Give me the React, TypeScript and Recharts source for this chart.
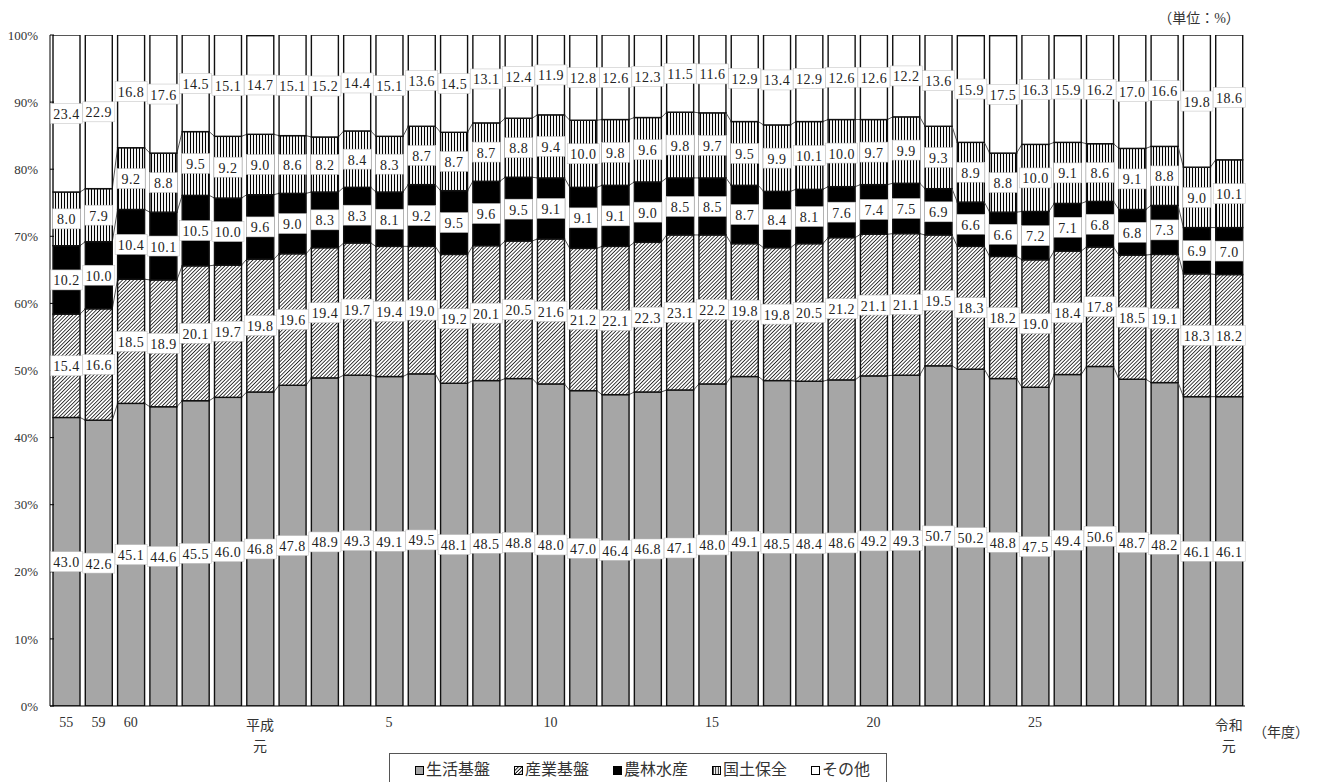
import React from "react";
import { BarChart, Bar, XAxis, YAxis, LabelList } from "recharts";

// fiscal years (昭和55 … 令和元)
const years = [
  "55", "59", "60", "61", "62", "63", "平成元", "2", "3", "4", "5", "6", "7", "8", "9", "10",
  "11", "12", "13", "14", "15", "16", "17", "18", "19", "20", "21", "22", "23", "24", "25",
  "26", "27", "28", "29", "30", "令和元",
];
const shownYears = ["55", "59", "60", "平成元", "5", "10", "15", "20", "25", "令和元"];

const seikatsu = [
  43.0, 42.6, 45.1, 44.6, 45.5, 46.0, 46.8, 47.8, 48.9, 49.3, 49.1, 49.5, 48.1, 48.5, 48.8, 48.0,
  47.0, 46.4, 46.8, 47.1, 48.0, 49.1, 48.5, 48.4, 48.6, 49.2, 49.3, 50.7, 50.2, 48.8, 47.5, 49.4,
  50.6, 48.7, 48.2, 46.1, 46.1,
];
const sangyo = [
  15.4, 16.6, 18.5, 18.9, 20.1, 19.7, 19.8, 19.6, 19.4, 19.7, 19.4, 19.0, 19.2, 20.1, 20.5, 21.6,
  21.2, 22.1, 22.3, 23.1, 22.2, 19.8, 19.8, 20.5, 21.2, 21.1, 21.1, 19.5, 18.3, 18.2, 19.0, 18.4,
  17.8, 18.5, 19.1, 18.3, 18.2,
];
const norin = [
  10.2, 10.0, 10.4, 10.1, 10.5, 10.0, 9.6, 9.0, 8.3, 8.3, 8.1, 9.2, 9.5, 9.6, 9.5, 9.1, 9.1, 9.1,
  9.0, 8.5, 8.5, 8.7, 8.4, 8.1, 7.6, 7.4, 7.5, 6.9, 6.6, 6.6, 7.2, 7.1, 6.8, 6.8, 7.3, 6.9, 7.0,
];
const kokudo = [
  8.0, 7.9, 9.2, 8.8, 9.5, 9.2, 9.0, 8.6, 8.2, 8.4, 8.3, 8.7, 8.7, 8.7, 8.8, 9.4, 10.0, 9.8, 9.6,
  9.8, 9.7, 9.5, 9.9, 10.1, 10.0, 9.7, 9.9, 9.3, 8.9, 8.8, 10.0, 9.1, 8.6, 9.1, 8.8, 9.0, 10.1,
];
const sonota = [
  23.4, 22.9, 16.8, 17.6, 14.5, 15.1, 14.7, 15.1, 15.2, 14.4, 15.1, 13.6, 14.5, 13.1, 12.4, 11.9,
  12.8, 12.6, 12.3, 11.5, 11.6, 12.9, 13.4, 12.9, 12.6, 12.6, 12.2, 13.6, 15.9, 17.5, 16.3, 15.9,
  16.2, 17.0, 16.6, 19.8, 18.6,
];
const yTicks = [0, 10, 20, 30, 40, 50, 60, 70, 80, 90, 100];

const SERIES = [
  { key: "seikatsu", name: "生活基盤", values: seikatsu, fill: "#a6a6a6" },
  { key: "sangyo", name: "産業基盤", values: sangyo, fill: "url(#hatchDiag)" },
  { key: "norin", name: "農林水産", values: norin, fill: "#000" },
  { key: "kokudo", name: "国土保全", values: kokudo, fill: "url(#hatchVert)" },
  { key: "sonota", name: "その他", values: sonota, fill: "#fff" },
];

const rows = years.map((year, i) => {
  const row: Record<string, any> = { year };
  SERIES.forEach((s) => (row[s.key] = s.values[i]));
  return row;
});

const W = 1317;
const H = 782;
const MARGIN = { top: 35, right: 72, bottom: 0, left: 0 };
const Y_AXIS_W = 50;
const BAND = (W - MARGIN.left - MARGIN.right - Y_AXIS_W) / years.length;
const FONT = '"Liberation Serif", "Noto Sans CJK JP", serif';
const TEXT = "#333";

const cumulative = (idx: number, upTo: number) =>
  SERIES.slice(0, upTo + 1).reduce((acc, s) => acc + s.values[idx], 0);

// segment rect plus the series line joining it to the same segment of the next bar
const makeShape = (k: number) => (props: any) => {
  const { x, y, width, height, index, fill } = props;
  if (!(height > 0)) return <g />;
  const val = SERIES[k].values[index];
  let link = null;
  if (k < SERIES.length - 1 && index < years.length - 1) {
    const pu = height / val;
    const zero = y + height + (cumulative(index, k) - val) * pu;
    const ny = zero - cumulative(index + 1, k) * pu;
    link = (
      <line x1={x + width} y1={y} x2={x + BAND} y2={ny} stroke="#555" strokeWidth={1} />
    );
  }
  return (
    <g>
      <rect x={x} y={y} width={width} height={height} fill={fill} stroke="#111" strokeWidth={1.4} />
      {link}
    </g>
  );
};

function SegmentLabel(props: any) {
  const vb = props.viewBox || props;
  const { x, y, width, height } = vb;
  if (props.value == null || !(height > 0)) return null;
  const text = Number(props.value).toFixed(1);
  const textW = text.length === 4 ? 27 : 20;
  const w = Math.max(28, textW + 5);
  const cx = x + width / 2;
  const cy = y + height / 2;
  return (
    <g>
      <rect x={cx - w / 2} y={cy - 10} width={w} height={20} fill="#fff" stroke="#bbb" strokeWidth={0.5} />
      <text
        x={cx}
        y={cy + 1}
        textAnchor="middle"
        dominantBaseline="central"
        fontFamily={FONT}
        fontSize={14}
        letterSpacing={0.5}
        fill="#222"
      >
        {text}
      </text>
    </g>
  );
}

function YearTick({ x, y, payload }: any) {
  const v: string = payload.value;
  if (!shownYears.includes(v)) return null;
  if (v.endsWith("元")) {
    return (
      <g fontFamily={FONT} fontSize={14} fill={TEXT} textAnchor="middle">
        <text x={x} y={y + 24}>{v.slice(0, -1)}</text>
        <text x={x} y={y + 45}>元</text>
      </g>
    );
  }
  return (
    <text x={x} y={y + 21} textAnchor="middle" fontFamily={FONT} fontSize={14} fill={TEXT}>
      {v}
    </text>
  );
}

function Swatch({ fill }: { fill: string }) {
  return (
    <svg width={9} height={9} style={{ marginRight: 2, flex: "none" }}>
      <defs>
        <pattern id="lgDiag" patternUnits="userSpaceOnUse" width="2.5" height="2.5" patternTransform="rotate(45)">
          <rect width="2.5" height="2.5" fill="#fff" />
          <line x1="1.25" y1="0" x2="1.25" y2="2.5" stroke="#000" strokeWidth="0.9" />
        </pattern>
        <pattern id="lgVert" patternUnits="userSpaceOnUse" width="2.5" height="2.5">
          <rect width="2.5" height="2.5" fill="#fff" />
          <line x1="1.25" y1="0" x2="1.25" y2="2.5" stroke="#000" strokeWidth="0.9" />
        </pattern>
      </defs>
      <rect
        x={0.5}
        y={0.5}
        width={8}
        height={8}
        fill={fill.replace("hatchDiag", "lgDiag").replace("hatchVert", "lgVert")}
        stroke="#000"
        strokeWidth={1}
      />
    </svg>
  );
}

export default function App() {
  return (
    <div style={{ position: "relative", width: W, height: H, overflow: "hidden", background: "#fff" }}>
      <style>{"body{margin:0}"}</style>
      <BarChart width={W} height={H} data={rows} margin={MARGIN} barSize={27}>
        <defs>
          <pattern id="hatchDiag" patternUnits="userSpaceOnUse" width="2.6" height="2.6" patternTransform="rotate(45)">
            <rect width="2.6" height="2.6" fill="#fff" />
            <line x1="1.3" y1="0" x2="1.3" y2="2.6" stroke="#000" strokeWidth="0.75" />
          </pattern>
          <pattern id="hatchVert" patternUnits="userSpaceOnUse" width="3" height="3">
            <rect width="3" height="3" fill="#fff" />
            <line x1="1.5" y1="0" x2="1.5" y2="3" stroke="#000" strokeWidth="1.1" />
          </pattern>
        </defs>
        <XAxis
          dataKey="year"
          interval={0}
          height={76}
          tickSize={0}
          tickMargin={0}
          tickLine={false}
          axisLine={{ stroke: "#000" }}
          tick={(p: any) => <YearTick {...p} />}
        />
        <XAxis
          xAxisId="top"
          orientation="top"
          dataKey="year"
          height={0}
          tick={false}
          tickLine={false}
          axisLine={{ stroke: "#000" }}
        />
        <YAxis
          type="number"
          domain={[0, 100]}
          allowDataOverflow
          ticks={yTicks}
          interval={0}
          width={Y_AXIS_W}
          tickSize={-4}
          tickMargin={16}
          tickFormatter={(v) => `${v}%`}
          tick={{ fontFamily: FONT, fontSize: 13, fill: TEXT }}
          tickLine={{ stroke: "#000" }}
          axisLine={{ stroke: "#000" }}
        />
        <YAxis
          yAxisId="right"
          orientation="right"
          type="number"
          domain={[0, 100]}
          width={0}
          tick={false}
          tickLine={false}
          axisLine={{ stroke: "#000" }}
        />
        {SERIES.map((s, k) => (
          <Bar
            key={s.key}
            dataKey={s.key}
            name={s.name}
            stackId="a"
            fill={s.fill}
            isAnimationActive={false}
            shape={makeShape(k)}
          >
            <LabelList dataKey={s.key} content={SegmentLabel} />
          </Bar>
        ))}
        <text x={1199} y={23} textAnchor="middle" fontFamily={FONT} fontSize={14} fill={TEXT}>
          （単位：%）
        </text>
        <text x={1281} y={737} textAnchor="middle" fontFamily={FONT} fontSize={14} fill={TEXT}>
          （年度）
        </text>
      </BarChart>
      <div
        style={{
          position: "absolute",
          left: 389,
          top: 753,
          width: 498,
          height: 40,
          boxSizing: "border-box",
          border: "1px solid #555",
          background: "#fff",
          display: "flex",
          alignItems: "flex-start",
          paddingLeft: 25,
          paddingTop: 6,
          gap: 24,
          fontFamily: FONT,
          fontSize: 16,
          color: TEXT,
          lineHeight: "20px",
        }}
      >
        {SERIES.map((s) => (
          <div key={s.key} style={{ display: "flex", alignItems: "center", whiteSpace: "nowrap" }}>
            <Swatch fill={s.fill} />
            <span>{s.name}</span>
          </div>
        ))}
      </div>
    </div>
  );
}
